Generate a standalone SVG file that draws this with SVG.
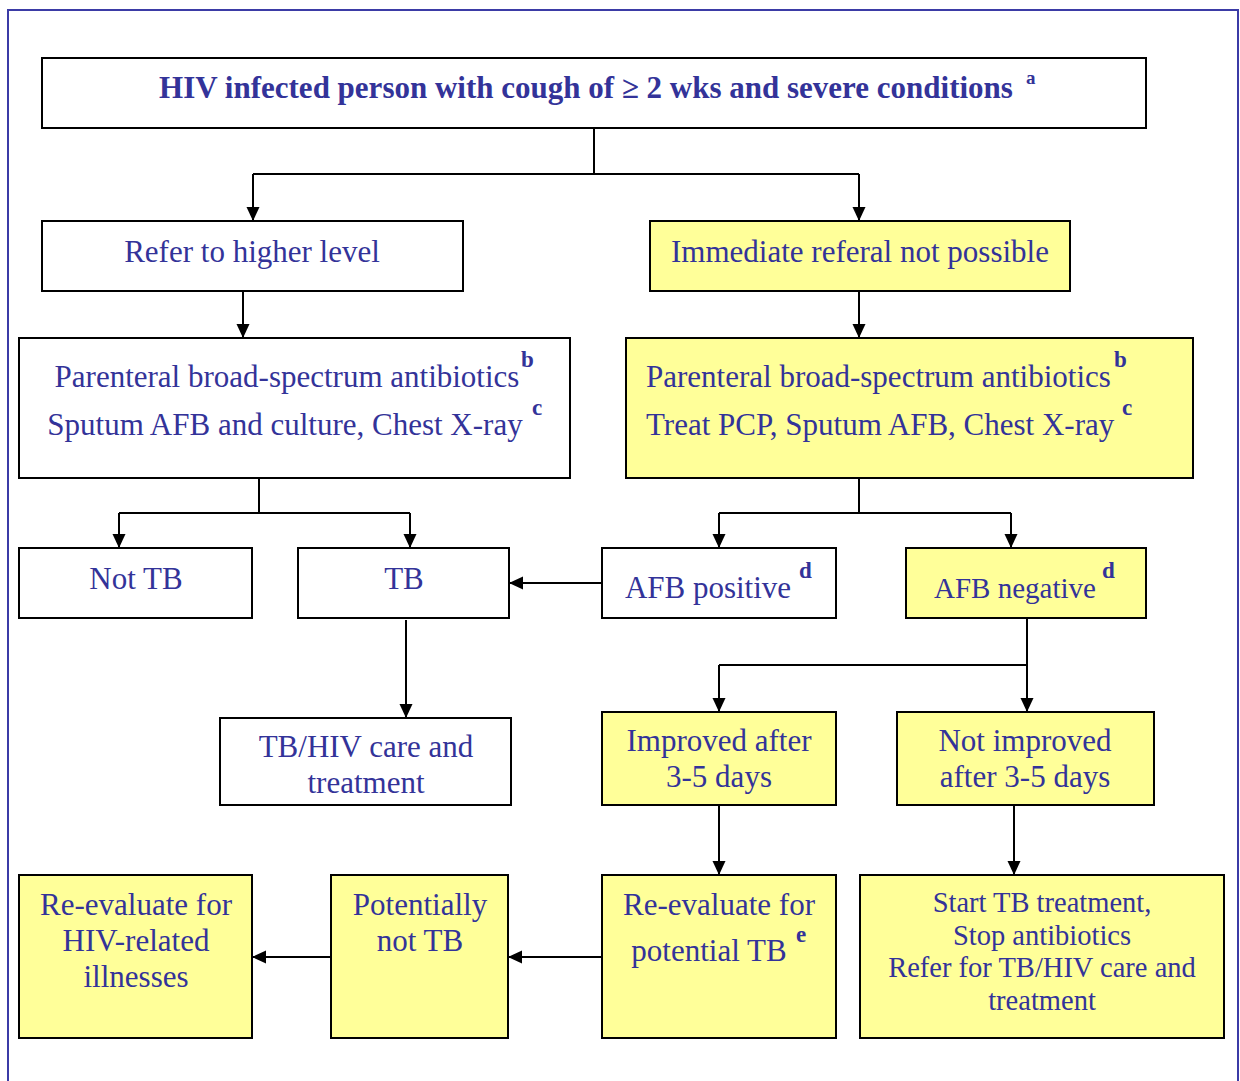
<svg xmlns="http://www.w3.org/2000/svg" width="1240" height="1081" viewBox="0 0 1240 1081">
<defs>
<marker id="ah" markerWidth="14" markerHeight="14" refX="13" refY="6.5" orient="auto" markerUnits="userSpaceOnUse"><path d="M0,0 L14,6.5 L0,13 Z" fill="#000"/></marker>
<style>
.b{stroke:#000;stroke-width:2;fill:#fff}
.y{stroke:#000;stroke-width:2;fill:#ffff99}
.t{font-family:"Liberation Serif","Times New Roman",serif;font-size:31px;fill:#333399;text-anchor:middle}
.l{text-anchor:start}
.m{font-size:28.5px}
.s{font-family:"Liberation Serif","Times New Roman",serif;font-size:23px;font-weight:bold;fill:#333399}
.c{stroke:#000;stroke-width:2;fill:none}
.ca{stroke:#000;stroke-width:2;fill:none;marker-end:url(#ah)}
</style>
</defs>
<rect width="1240" height="1081" fill="#fff"/>
<path d="M8,1081 V10 H1238 V1081" fill="none" stroke="#3b3ba6" stroke-width="2"/>
<g id="connectors">
<path class="c" d="M594,128 V174 M253,174 H859"/>
<path class="ca" d="M253,174 V220"/>
<path class="ca" d="M859,174 V220"/>
<path class="ca" d="M243,291 V337"/>
<path class="ca" d="M859,291 V337"/>
<path class="c" d="M259,478 V513 M119,513 H410"/>
<path class="ca" d="M119,513 V547"/>
<path class="ca" d="M410,513 V547"/>
<path class="c" d="M859,478 V513 M719,513 H1011"/>
<path class="ca" d="M719,513 V547"/>
<path class="ca" d="M1011,513 V547"/>
<path class="ca" d="M602,583 H510"/>
<path class="ca" d="M406,620 V717"/>
<path class="c" d="M1027,618 V665 M719,665 H1027"/>
<path class="ca" d="M719,665 V711"/>
<path class="ca" d="M1027,665 V711"/>
<path class="ca" d="M719,805 V874"/>
<path class="ca" d="M1014,805 V874"/>
<path class="ca" d="M602,957 H509"/>
<path class="ca" d="M331,957 H253"/>
</g>
<g id="n1"><rect class="b" x="42" y="58" width="1104" height="70"/>
<text class="t" x="586" y="98" font-weight="bold">HIV infected person with cough of ≥ 2 wks and severe conditions</text>
<text class="s" x="1026" y="84" style="font-size:19px">a</text></g>
<g id="n2"><rect class="b" x="42" y="221" width="421" height="70"/><text class="t" x="252" y="262">Refer to higher level</text></g>
<g id="n3"><rect class="y" x="650" y="221" width="420" height="70"/><text class="t" x="860" y="262">Immediate referal not possible</text></g>
<g id="n4"><rect class="b" x="19" y="338" width="551" height="140"/>
<text class="t" x="287" y="387">Parenteral broad-spectrum antibiotics</text>
<text class="s" x="521" y="367">b</text>
<text class="t" x="285" y="435">Sputum AFB and culture, Chest X-ray</text>
<text class="s" x="532" y="415">c</text></g>
<g id="n5"><rect class="y" x="626" y="338" width="567" height="140"/>
<text class="t l" x="646" y="387">Parenteral broad-spectrum antibiotics</text>
<text class="s" x="1114" y="367">b</text>
<text class="t l" x="646" y="435">Treat PCP, Sputum AFB, Chest X-ray</text>
<text class="s" x="1122" y="415">c</text></g>
<g id="n6"><rect class="b" x="19" y="548" width="233" height="70"/><text class="t" x="136" y="589">Not TB</text></g>
<g id="n7"><rect class="b" x="298" y="548" width="211" height="70"/><text class="t" x="404" y="589">TB</text></g>
<g id="n8"><rect class="b" x="602" y="548" width="234" height="70"/><text class="t" x="708" y="598">AFB positive</text><text class="s" x="799" y="578">d</text></g>
<g id="n9"><rect class="y" x="906" y="548" width="240" height="70"/><text class="t" x="1015" y="598" style="font-size:29px">AFB negative</text><text class="s" x="1102" y="578">d</text></g>
<g id="n10"><rect class="b" x="220" y="718" width="291" height="87"/><text class="t" x="366" y="757">TB/HIV care and</text><text class="t" x="366" y="793">treatment</text></g>
<g id="n11"><rect class="y" x="602" y="712" width="234" height="93"/><text class="t" x="719" y="751">Improved after</text><text class="t" x="719" y="787">3-5 days</text></g>
<g id="n12"><rect class="y" x="897" y="712" width="257" height="93"/><text class="t" x="1025" y="751">Not improved</text><text class="t" x="1025" y="787">after 3-5 days</text></g>
<g id="n13"><rect class="y" x="19" y="875" width="233" height="163"/><text class="t" x="136" y="915">Re-evaluate for</text><text class="t" x="136" y="951">HIV-related</text><text class="t" x="136" y="987">illnesses</text></g>
<g id="n14"><rect class="y" x="331" y="875" width="177" height="163"/><text class="t" x="420" y="915">Potentially</text><text class="t" x="420" y="951">not TB</text></g>
<g id="n15"><rect class="y" x="602" y="875" width="234" height="163"/><text class="t" x="719" y="915">Re-evaluate for</text><text class="t" x="709" y="961">potential TB</text><text class="s" x="796" y="942">e</text></g>
<g id="n16"><rect class="y" x="860" y="875" width="364" height="163"/>
<text class="t m" x="1042" y="912">Start TB treatment,</text>
<text class="t m" x="1042" y="945">Stop antibiotics</text>
<text class="t m" x="1042" y="977">Refer for TB/HIV care and</text>
<text class="t m" x="1042" y="1010">treatment</text></g>
</svg>
